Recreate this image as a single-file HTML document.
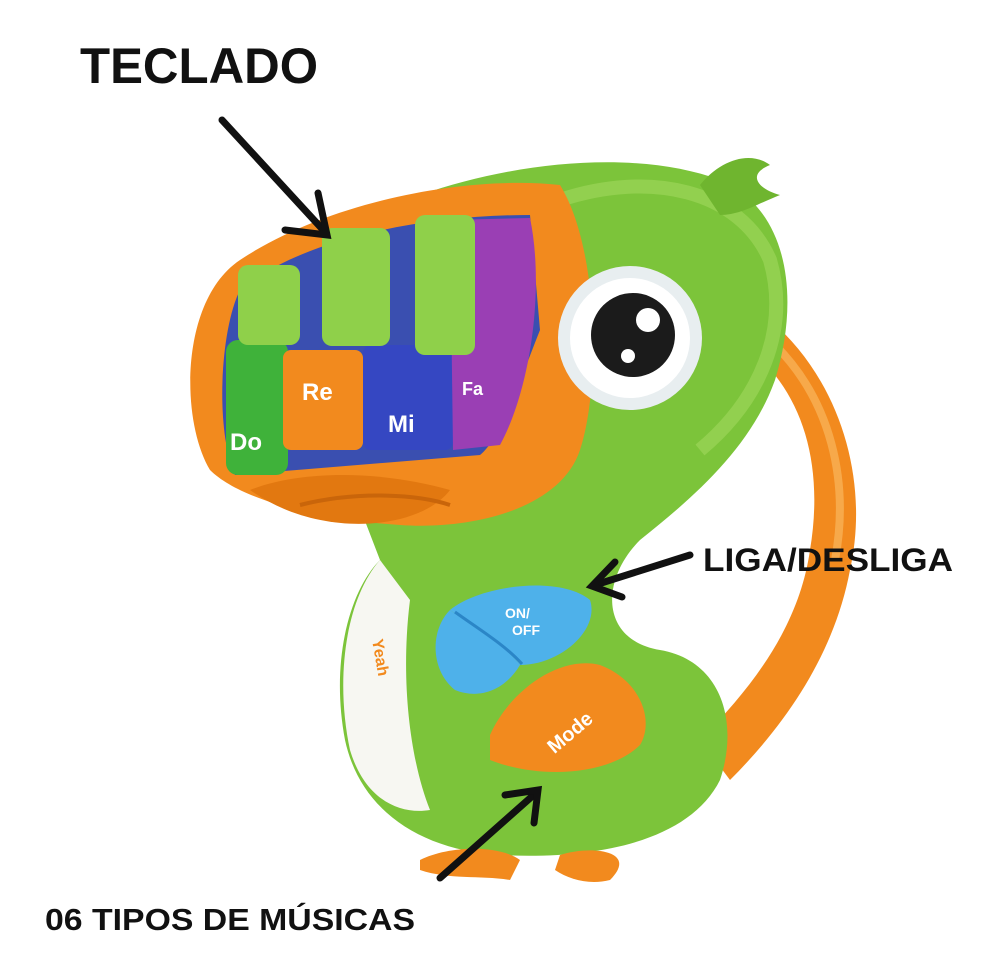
<!DOCTYPE html>
<html><head><meta charset="utf-8"><style>
html,body{margin:0;padding:0;background:#fff;width:1000px;height:975px;overflow:hidden}
svg{display:block}
</style></head><body>
<svg width="1000" height="975" viewBox="0 0 1000 975" xmlns="http://www.w3.org/2000/svg">
<!-- tail -->
<path d="M770 320 C840 380 870 480 850 570 C835 650 790 720 730 780 L700 740 C760 680 800 620 810 550 C825 460 800 390 750 350 Z" fill="#f28a1e"/>
<path d="M775 345 C830 400 850 480 835 560" stroke="#f7a94a" stroke-width="8" fill="none"/>
<!-- body -->
<path d="M420 195 C520 160 640 150 720 180 C790 210 800 300 775 380 C750 450 690 500 640 540 C600 580 600 640 660 650 C720 660 740 720 720 780 C690 840 600 860 500 855 C420 850 360 810 345 740 C330 660 350 590 380 560 L330 430 Z" fill="#7cc43a"/>
<path d="M560 200 C650 170 740 190 770 260 C790 330 760 400 700 450" stroke="#a2d95e" stroke-width="14" fill="none" opacity=".6"/>
<!-- crest -->
<path d="M700 185 C720 160 750 150 770 165 C745 175 760 190 780 195 C755 205 740 215 720 215 Z" fill="#6fb52f"/>
<!-- white belly -->
<path d="M380 560 C345 600 335 680 350 750 C365 800 400 815 430 810 C410 760 400 680 410 600 Z" fill="#f7f7f2"/>
<text x="372" y="640" font-family="Liberation Sans,sans-serif" font-size="16" font-weight="bold" fill="#f28a1e" transform="rotate(80 372 640)">Yeah</text>
<!-- beak -->
<path d="M560 185 C470 175 330 200 240 260 C180 300 180 420 210 470 C240 500 320 520 400 525 C470 530 560 510 580 450 C600 390 600 250 560 185 Z" fill="#f28a1e"/>
<path d="M250 490 C300 470 380 470 450 490 C420 530 320 540 250 490 Z" fill="#e27810"/>
<path d="M300 505 C360 490 420 495 450 505" stroke="#c9650a" stroke-width="4" fill="none"/>
<!-- keys panel -->
<path d="M240 290 C300 240 420 215 530 215 L540 330 C520 380 500 440 480 455 L235 475 C215 430 220 330 240 290 Z" fill="#3a4fb0"/>
<rect x="226" y="340" width="62" height="135" rx="12" fill="#3fb23a"/>
<rect x="283" y="350" width="80" height="100" rx="8" fill="#f28a1e"/>
<rect x="363" y="345" width="90" height="105" rx="8" fill="#3547c2"/>
<path d="M450 220 L530 218 C545 290 530 390 500 445 L453 450 Z" fill="#9a3fb4"/>
<!-- green keys -->
<rect x="238" y="265" width="62" height="80" rx="10" fill="#8fd04a"/>
<rect x="322" y="228" width="68" height="118" rx="10" fill="#8fd04a"/>
<rect x="415" y="215" width="60" height="140" rx="10" fill="#8fd04a"/>
<g font-family="Liberation Sans,sans-serif" font-weight="bold" fill="#fff">
<text x="230" y="450" font-size="24">Do</text>
<text x="302" y="400" font-size="24">Re</text>
<text x="388" y="432" font-size="24">Mi</text>
<text x="462" y="395" font-size="18">Fa</text>
</g>
<!-- eye -->
<circle cx="630" cy="338" r="72" fill="#e8eef0"/>
<circle cx="630" cy="338" r="60" fill="#fff"/>
<circle cx="633" cy="335" r="42" fill="#1b1b1b"/>
<circle cx="648" cy="320" r="12" fill="#fff"/>
<circle cx="628" cy="356" r="7" fill="#fff"/>
<!-- buttons -->
<path d="M450 610 C480 585 560 575 590 600 C600 630 560 665 520 665 C500 640 470 625 450 610 Z" fill="#4eb1ea"/>
<path d="M450 610 C470 625 500 640 520 665 C505 690 480 700 455 690 C430 670 430 630 450 610 Z" fill="#4eb1ea"/>
<path d="M455 612 C480 630 505 645 522 664" stroke="#2b86c7" stroke-width="3" fill="none"/>
<text x="505" y="618" font-family="Liberation Sans,sans-serif" font-size="14" font-weight="bold" fill="#fff">ON/</text>
<text x="512" y="635" font-family="Liberation Sans,sans-serif" font-size="14" font-weight="bold" fill="#fff">OFF</text>
<path d="M490 735 C510 690 560 655 600 665 C640 680 655 720 640 745 C610 775 540 780 490 760 Z" fill="#f28a1e"/>
<text x="540" y="745" font-family="Liberation Sans,sans-serif" font-size="20" font-weight="bold" fill="#fff" transform="rotate(-40 560 730)">Mode</text>
<!-- feet -->
<path d="M420 860 C450 845 500 845 520 860 L510 880 C480 875 450 880 420 870 Z" fill="#f28a1e"/>
<path d="M560 855 C590 845 640 850 610 880 C590 885 570 880 555 870 Z" fill="#f28a1e"/>
<!-- labels & arrows -->
<g font-family="Liberation Sans,sans-serif" font-weight="bold" fill="#111">
<text x="80" y="83" font-size="50" textLength="238" lengthAdjust="spacingAndGlyphs">TECLADO</text>
<text x="703" y="571" font-size="32" textLength="250" lengthAdjust="spacingAndGlyphs">LIGA/DESLIGA</text>
<text x="45" y="930" font-size="31" textLength="370" lengthAdjust="spacingAndGlyphs">06 TIPOS DE MÚSICAS</text>
</g>
<g stroke="#111" stroke-width="7" stroke-linecap="round" fill="none">
<line x1="222" y1="120" x2="325" y2="232"/>
<polyline points="285,230 327,235 318,193"/>
<line x1="690" y1="555" x2="595" y2="585"/>
<polyline points="615,562 592,586 622,597"/>
<line x1="440" y1="878" x2="537" y2="792"/>
<polyline points="505,795 538,790 534,823"/>
</g>
</svg>
</body></html>
